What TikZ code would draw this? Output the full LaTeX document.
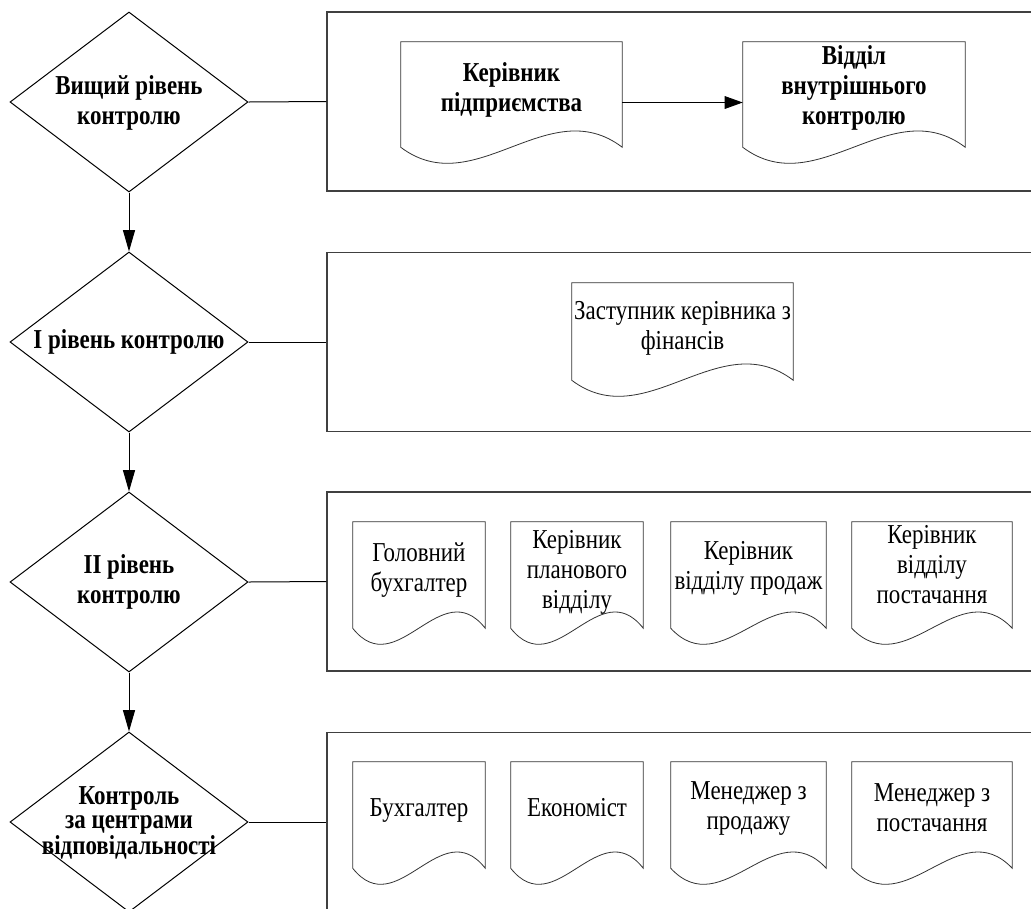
\documentclass[tikz,border=0pt]{standalone}
\usepackage{fontspec}
\setmainfont{Liberation Serif}[FakeStretch=0.84]
\usetikzlibrary{shapes.geometric,arrows.meta,calc}

% #1 name, #2 x1, #3 x2, #4 top, #5 wave end y, #6 text centre y, #7 text style, #8 text
\newcommand\mkdoc[8]{%
  \node[docarea, minimum width={(#3-#2)*0.75}, minimum height={(#5+16-#4)*0.75}]
    (#1) at ({(#2+#3)/2},{(#4+#5+16)/2}) {};
  \draw[docline] (#1.north west) -- ($(#1.south west)+(0,-16)$)
    .. controls ({#2+(#3-#2)/3},{#5+56}) and ({#2+2*(#3-#2)/3},{#5-56}) ..
    ($(#1.south east)+(0,-16)$) -- (#1.north east) -- cycle;
  \node[#7] (#1t) at ({(#2+#3)/2},#6) {#8};
}

\begin{document}
\begin{tikzpicture}[x=0.75pt,y=-0.75pt,
  txt/.style={font=\fontsize{20.5}{22.5}\selectfont, align=center, inner sep=0pt},
  btxt/.style={font=\fontsize{20.5}{22.5}\selectfont\bfseries, align=center, inner sep=0pt},
  dia/.style={shape=diamond, draw=black, line width=0.75pt, minimum width=178.5pt,
    minimum height=135pt, inner sep=0pt},
  lvl/.style={rectangle, draw=black!75, line width=0.8pt, minimum width=538.5pt,
    minimum height=134.25pt, inner sep=0pt},
  docarea/.style={rectangle, inner sep=0pt, draw=none},
  docline/.style={draw=black!80, line width=0.6pt},
  conn/.style={draw=black, line width=0.75pt},
  arr/.style={conn, -{Triangle[length=16pt,width=9pt]}},
]
\useasboundingbox (0,0) rectangle (1031,908);
\clip (0,0) rectangle (1031,908);
\fill[white] (0,0) rectangle (1031,908);

% level boxes
\node[lvl] (b1) at (686,101.5) {};
\node[lvl] (b2) at (686,342) {};
\node[lvl] (b3) at (686,581.5) {};
\node[lvl] (b4) at (686,822) {};

% diamonds
\node[dia] (d1) at (129,102) {};
\node[dia] (d2) at (129,342) {};
\node[dia] (d3) at (129,582) {};
\node[dia] (d4) at (129,822) {};
\node[btxt] (d1t) at (129,103) {Вищий рівень\\контролю};
\node[btxt] (d2t) at (129,342) {I рівень контролю};
\node[btxt] (d3t) at (129,582) {II рівень\\контролю};
\node[btxt, font=\fontsize{20.5}{18.5}\selectfont\bfseries] (d4t) at (129,823) {Контроль\\за центрами\\відповідальності};

% connectors
\draw[arr] (d1.south) -- (d2.north);
\draw[arr] (d2.south) -- (d3.north);
\draw[arr] (d3.south) -- (d4.north);
\draw[conn] (d1.east) -- (b1.west);
\draw[conn] (d2.east) -- (b2.west);
\draw[conn] (d3.east) -- (b3.west);
\draw[conn] (d4.east) -- (b4.west);

% documents
\mkdoc{k1}{401}{622}{42}{147}{90}{btxt}{Керівник\\підприємства}
\mkdoc{k2}{743}{965}{42}{147}{88}{btxt}{Відділ\\внутрішнього\\контролю}
\draw[conn, -{Triangle[length=13.5pt,width=9.5pt]}] (k1.east) -- (k2.west);

\mkdoc{z}{572}{793}{283}{380}{328}{txt}{Заступник керівника з\\фінансів}

\mkdoc{a3}{353}{485}{522}{628}{570}{txt}{Головний\\бухгалтер}
\mkdoc{b3}{511}{643}{522}{628}{572}{txt}{Керівник\\планового\\відділу}
\mkdoc{c3}{671}{826}{522}{628}{568}{txt}{Керівник\\відділу продаж}
\mkdoc{e3}{852}{1012}{522}{628}{565}{txt}{Керівник\\відділу\\постачання}

\mkdoc{a4}{353}{485}{762}{868}{810}{txt}{Бухгалтер}
\mkdoc{b4}{511}{643}{762}{868}{808}{txt}{Економіст}
\mkdoc{c4}{671}{826}{762}{868}{808}{txt}{Менеджер з\\продажу}
\mkdoc{e4}{852}{1012}{762}{868}{808}{txt}{Менеджер з\\постачання}
\end{tikzpicture}
\end{document}
